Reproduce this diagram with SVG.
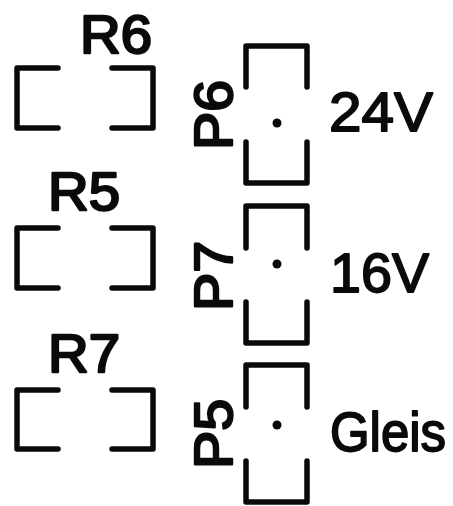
<svg xmlns="http://www.w3.org/2000/svg" width="453" height="506" viewBox="0 0 453 506">
<style>
.o{fill:none;stroke:#0a0a0a;stroke-width:5.5;stroke-linecap:round;stroke-linejoin:round}
.d{fill:#0a0a0a}
text{font-family:"Liberation Sans",Arial,sans-serif;fill:#0a0a0a;stroke:#0a0a0a;stroke-linejoin:round}
.r{font-size:54px;stroke-width:2.4px}
.l{font-size:56px;stroke-width:1.8px}
</style>
<rect width="453" height="506" fill="#fff"/>
<g id="R6"><path class="o" d="M58 68H17V128H58M112 68H153V128H112"/><text class="r" x="80" y="53" textLength="72" lengthAdjust="spacingAndGlyphs">R6</text></g>
<g id="R5"><path class="o" d="M58 228H17V288H58M112 228H153V288H112"/><text class="r" x="48" y="210" textLength="72" lengthAdjust="spacingAndGlyphs">R5</text></g>
<g id="R7"><path class="o" d="M58 390H17V449H58M112 390H153V449H112"/><text class="r" x="48" y="372" textLength="72" lengthAdjust="spacingAndGlyphs">R7</text></g>
<g id="P6"><path class="o" d="M246 87V46H307V87M246 142V183H307V142"/><circle class="d" cx="277" cy="123" r="4.5"/><text class="r" transform="translate(232 150) rotate(-90)" textLength="70" lengthAdjust="spacingAndGlyphs">P6</text></g>
<g id="P7"><path class="o" d="M246 248V206H307V248M246 302V343H307V302"/><circle class="d" cx="277" cy="264" r="4.5"/><text class="r" transform="translate(232 311) rotate(-90)" textLength="70" lengthAdjust="spacingAndGlyphs">P7</text></g>
<g id="P5"><path class="o" d="M246 407V365H307V407M246 461V502H307V461"/><circle class="d" cx="277" cy="425" r="4.5"/><text class="r" transform="translate(232 469) rotate(-90)" textLength="70" lengthAdjust="spacingAndGlyphs">P5</text></g>
<text class="l" x="329" y="131" textLength="104" lengthAdjust="spacingAndGlyphs">24V</text>
<text class="l" x="330" y="292" textLength="99" lengthAdjust="spacingAndGlyphs">16V</text>
<text class="l" transform="translate(330 451) scale(.91 1)">Gleis</text>
</svg>
